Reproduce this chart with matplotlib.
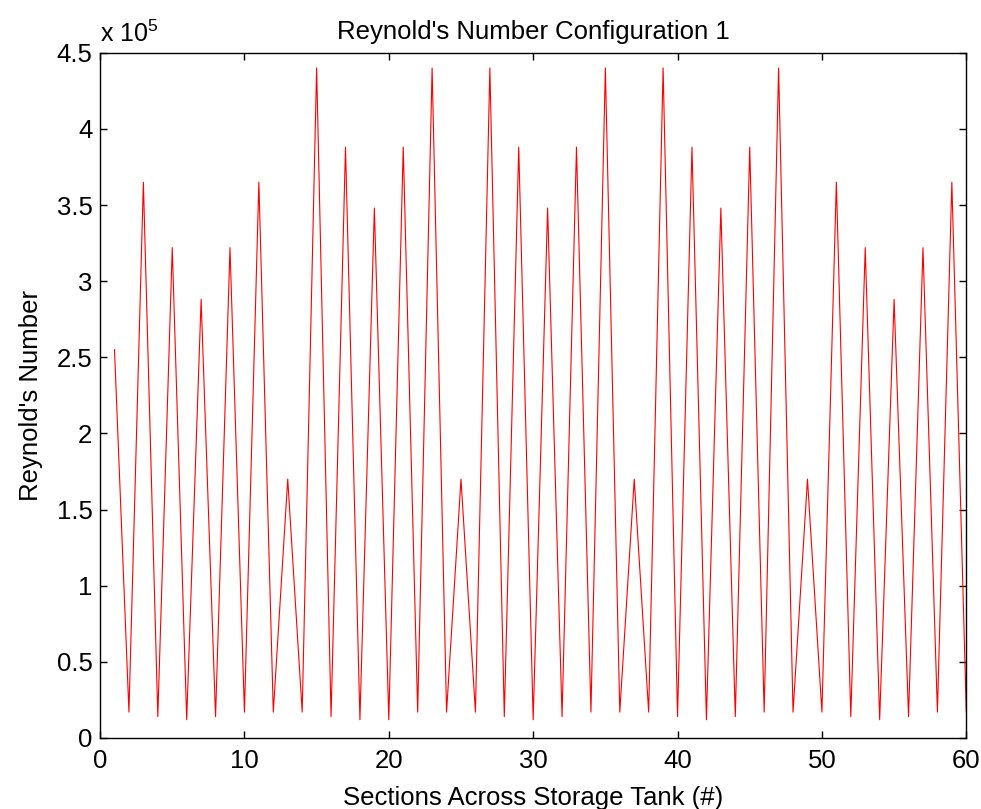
import matplotlib
matplotlib.use('Agg')
import matplotlib.pyplot as plt
from matplotlib.ticker import FuncFormatter, MultipleLocator

plt.rcParams['font.family'] = ['Liberation Sans', 'DejaVu Sans']
plt.rcParams['mathtext.default'] = 'regular'

# secciones del tanque
secciones = list(range(1, 61))
# numero de Reynolds
reynolds = [
    2.55e5, 0.17e5, 3.65e5, 0.14e5, 3.22e5, 0.12e5, 2.88e5, 0.14e5, 3.22e5, 0.17e5,
    3.65e5, 0.17e5, 1.70e5, 0.17e5, 4.40e5, 0.14e5, 3.88e5, 0.12e5, 3.48e5, 0.12e5,
    3.88e5, 0.17e5, 4.40e5, 0.17e5, 1.70e5, 0.17e5, 4.40e5, 0.14e5, 3.88e5, 0.12e5,
    3.48e5, 0.14e5, 3.88e5, 0.17e5, 4.40e5, 0.17e5, 1.70e5, 0.17e5, 4.40e5, 0.14e5,
    3.88e5, 0.12e5, 3.48e5, 0.14e5, 3.88e5, 0.17e5, 4.40e5, 0.17e5, 1.70e5, 0.17e5,
    3.65e5, 0.14e5, 3.22e5, 0.12e5, 2.88e5, 0.14e5, 3.22e5, 0.17e5, 3.65e5, 0.17e5,
]

fig = plt.figure(figsize=(9.81, 8.09), dpi=100)
ax = fig.add_axes([0.102, 0.0878, 0.883, 0.847])

ax.plot(secciones, reynolds, color='red', linewidth=0.8)

ax.set_xlim(0, 60)
ax.set_ylim(0, 4.5e5)
ax.xaxis.set_major_locator(MultipleLocator(10))
ax.yaxis.set_major_locator(MultipleLocator(0.5e5))
ax.yaxis.set_major_formatter(FuncFormatter(lambda v, p: '%g' % (v / 1e5)))

ax.tick_params(direction='in', top=True, right=True, length=5, width=1,
               labelsize=18.5)
ax.tick_params(axis='x', pad=8)
ax.tick_params(axis='y', pad=5.5)
for s in ax.spines.values():
    s.set_linewidth(1.0)

# multiplicador del eje Y (estilo MATLAB)
ax.annotate('x 10$^{5}$', xy=(0, 1), xycoords='axes fraction',
            xytext=(0, 8), textcoords='offset points',
            fontsize=18, ha='left', va='baseline')

ax.set_title("Reynold's Number Configuration 1", fontsize=18.5, pad=10)
ax.set_xlabel('Sections Across Storage Tank (#)', fontsize=18.5, labelpad=9)
ax.set_ylabel("Reynold's Number", fontsize=18.5, labelpad=10)

fig.savefig('out.png', dpi=100)
